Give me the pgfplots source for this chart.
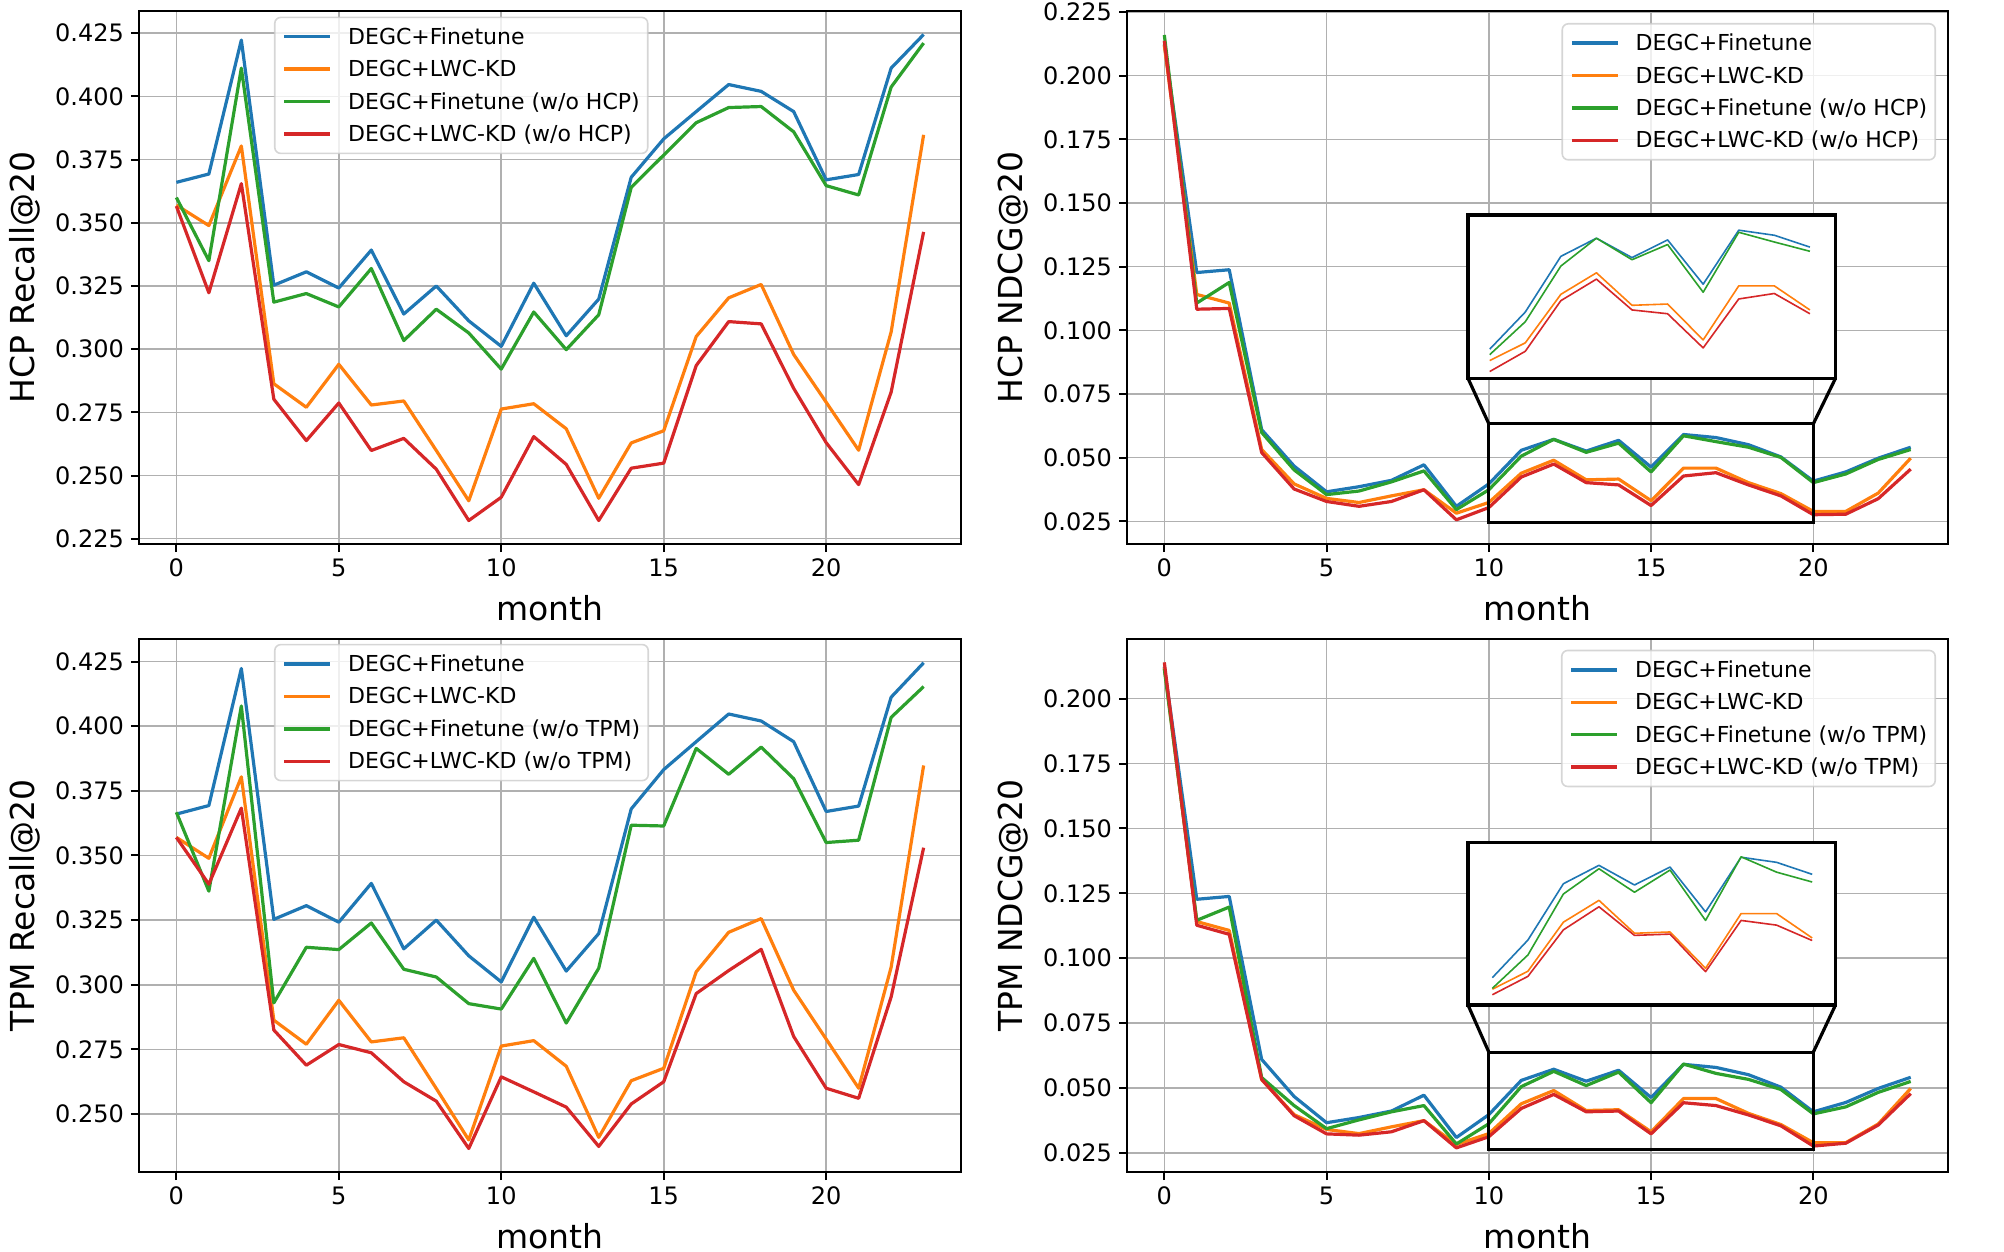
\documentclass[border=0pt]{standalone}
\usepackage{fontspec}
\setmainfont{DejaVu Sans}
\usepackage{pgfplots}
\pgfplotsset{compat=1.18}
\usepackage{pgfplotstable}

\definecolor{tabblue}{HTML}{1F77B4}
\definecolor{taborange}{HTML}{FF7F0E}
\definecolor{tabgreen}{HTML}{2CA02C}
\definecolor{tabred}{HTML}{D62728}
\definecolor{gridgray}{HTML}{B0B0B0}
\definecolor{legendgray}{HTML}{CCCCCC}

\pgfplotstableread{
x B O GH RH GT RT
0 0.3660 0.3570 0.3600 0.3566 0.3667 0.3570
1 0.3693 0.3489 0.3350 0.3223 0.3362 0.3389
2 0.4223 0.3804 0.4112 0.3655 0.4078 0.3683
3 0.3253 0.2863 0.3186 0.2802 0.2930 0.2825
4 0.3306 0.2770 0.3220 0.2638 0.3145 0.2689
5 0.3242 0.2940 0.3167 0.2787 0.3136 0.2769
6 0.3392 0.2779 0.3319 0.2599 0.3239 0.2737
7 0.3139 0.2795 0.3034 0.2647 0.3060 0.2625
8 0.3250 0.2599 0.3158 0.2525 0.3030 0.2550
9 0.3112 0.2400 0.3064 0.2322 0.2927 0.2367
10 0.3011 0.2763 0.2921 0.2414 0.2906 0.2644
11 0.3261 0.2784 0.3147 0.2654 0.3102 0.2586
12 0.3053 0.2685 0.2998 0.2544 0.2852 0.2527
13 0.3198 0.2410 0.3136 0.2322 0.3064 0.2375
14 0.3680 0.2629 0.3640 0.2529 0.3617 0.2539
15 0.3832 0.2677 0.3768 0.2549 0.3614 0.2625
16 0.3940 0.3050 0.3896 0.2935 0.3914 0.2966
17 0.4047 0.3203 0.3956 0.3109 0.3814 0.3055
18 0.4020 0.3256 0.3960 0.3100 0.3919 0.3137
19 0.3940 0.2979 0.3860 0.2845 0.3797 0.2800
20 0.3670 0.2790 0.3647 0.2630 0.3550 0.2600
21 0.3691 0.2600 0.3610 0.2464 0.3559 0.2561
22 0.4112 0.3068 0.4037 0.2830 0.4034 0.2953
23 0.4245 0.3848 0.4211 0.3464 0.4153 0.3530
}\recall

\pgfplotstableread{
x B O GH RH GT RT
0 0.2123 0.2120 0.2160 0.2137 0.2115 0.2140
1 0.1227 0.1141 0.1107 0.1083 0.1146 0.1127
2 0.1238 0.1107 0.1188 0.1086 0.1197 0.1092
3 0.0610 0.0532 0.0599 0.0520 0.0540 0.0533
4 0.0467 0.0397 0.0452 0.0377 0.0432 0.0393
5 0.0366 0.0340 0.0355 0.0328 0.0343 0.0323
6 0.0386 0.0324 0.0369 0.0309 0.0377 0.0318
7 0.0411 0.0350 0.0405 0.0328 0.0408 0.0331
8 0.0472 0.0374 0.0448 0.0374 0.0432 0.0374
9 0.0309 0.0282 0.0296 0.0256 0.0284 0.0269
10 0.0397 0.0324 0.0374 0.0304 0.0362 0.0312
11 0.0529 0.0439 0.0506 0.0424 0.0505 0.0421
12 0.0572 0.0490 0.0572 0.0475 0.0564 0.0475
13 0.0526 0.0413 0.0521 0.0402 0.0509 0.0408
14 0.0568 0.0416 0.0557 0.0393 0.0561 0.0411
15 0.0463 0.0331 0.0444 0.0312 0.0443 0.0323
16 0.0591 0.0459 0.0586 0.0428 0.0592 0.0443
17 0.0579 0.0459 0.0563 0.0441 0.0556 0.0432
18 0.0551 0.0402 0.0541 0.0393 0.0533 0.0396
19 0.0503 0.0359 0.0501 0.0350 0.0494 0.0354
20 0.0408 0.0289 0.0402 0.0276 0.0400 0.0276
21 0.0444 0.0289 0.0436 0.0278 0.0427 0.0287
22 0.0498 0.0361 0.0493 0.0339 0.0483 0.0357
23 0.0541 0.0498 0.0532 0.0455 0.0525 0.0478
}\ndcg

\pgfplotsset{
  mainax/.style={
    scale only axis, width=411pt, height=266.5pt, anchor=south west,
    xmin=-1.15, xmax=24.15, xtick={0,5,10,15,20},
    grid=major, major grid style={line width=0.8pt, draw=gridgray},
    axis line style={line width=1pt, black},
    tick align=outside, tick pos=left, major tick length=4pt,
    tick style={line width=1pt, black},
    /pgf/number format/assume math mode=true,
    tick label style={font=\fontsize{12}{14}\selectfont},
    yticklabel style={/pgf/number format/fixed, /pgf/number format/fixed zerofill, /pgf/number format/precision=3},
    scaled y ticks=false,
    xlabel={month},
    xlabel style={font=\fontsize{16.5}{19}\selectfont, at={(axis description cs:0.5,0)}, anchor=base, yshift=-38pt},
    ylabel style={font=\fontsize{16.5}{19}\selectfont, at={(axis description cs:-0.127,0.5)}, anchor=base},
    legend cell align=left,
    legend style={font=\fontsize{11}{13}\selectfont, draw=legendgray, line width=0.8pt, rounded corners=3pt,
      fill=white, fill opacity=0.8, draw opacity=0.8, text opacity=1,
      inner xsep=4pt, inner ysep=4.95pt, row sep=6.7pt, column sep=8pt,
      nodes={inner sep=0pt, text height=8.5pt, text depth=1pt}},
    legend image code/.code={\draw[#1, line width=1.7pt, draw opacity=1, rounded corners=0pt] (0pt,0pt) -- (23pt,0pt);},
    every axis plot/.append style={line width=1.6pt, line join=round},
  },
  insax/.style={
    scale only axis, width=183.75pt, anchor=south west,
    xtick=\empty, ytick=\empty,
    axis line style={line width=1.7pt, black},
    axis background/.style={fill=white},
    every axis plot/.append style={line width=0.8pt, line join=round},
  },
}

\begin{document}
\begin{tikzpicture}

% ---------- top left ----------
\begin{axis}[mainax, at={(69.5pt,-272pt)},
  ymin=0.2229, ymax=0.4338,
  ytick={0.225,0.25,0.275,0.3,0.325,0.35,0.375,0.4,0.425},
  ylabel={HCP Recall@20},
  legend style={at={(0.1642,0.9895)}, anchor=north west}]
\addplot[tabblue] table[x=x,y=B]{\recall};
\addplot[taborange] table[x=x,y=O]{\recall};
\addplot[tabgreen] table[x=x,y=GH]{\recall};
\addplot[tabred] table[x=x,y=RH]{\recall};
\legend{DEGC+Finetune, DEGC+LWC-KD, DEGC+Finetune (w/o HCP), DEGC+LWC-KD (w/o HCP)}
\end{axis}

% ---------- top right ----------
\begin{axis}[mainax, at={(563.5pt,-272pt)}, width=410.5pt,
  ymin=0.0161, ymax=0.2254,
  ytick={0.025,0.05,0.075,0.1,0.125,0.15,0.175,0.2,0.225},
  ylabel={HCP NDCG@20},
  legend style={at={(0.9854,0.9775)}, anchor=north east}]
\addplot[tabblue] table[x=x,y=B]{\ndcg};
\addplot[taborange] table[x=x,y=O]{\ndcg};
\addplot[tabgreen] table[x=x,y=GH]{\ndcg};
\addplot[tabred] table[x=x,y=RH]{\ndcg};
\legend{DEGC+Finetune, DEGC+LWC-KD, DEGC+Finetune (w/o HCP), DEGC+LWC-KD (w/o HCP)}
\draw[line width=1.6pt] (axis cs:10,0.0245) rectangle (axis cs:20,0.0633);
\coordinate (rAl) at (axis cs:10,0.0633);
\coordinate (rAr) at (axis cs:20,0.0633);
\end{axis}

\begin{axis}[insax, name=insA, at={(734pt,-189.15pt)}, height=81.65pt,
  xmin=8.39, xmax=18.72, ymin=0.024, ymax=0.0627]
\addplot[tabblue, restrict x to domain=9:18] table[x=x,y=B]{\ndcg};
\addplot[taborange, restrict x to domain=9:18] table[x=x,y=O]{\ndcg};
\addplot[tabgreen, restrict x to domain=9:18] table[x=x,y=GH]{\ndcg};
\addplot[tabred, restrict x to domain=9:18] table[x=x,y=RH]{\ndcg};
\end{axis}
\draw[line width=1.6pt] (insA.south west) -- (rAl);
\draw[line width=1.6pt] (insA.south east) -- (rAr);

% ---------- bottom left ----------
\begin{axis}[mainax, at={(69.5pt,-586pt)},
  ymin=0.2276, ymax=0.4337,
  ytick={0.25,0.275,0.3,0.325,0.35,0.375,0.4,0.425},
  ylabel={TPM Recall@20},
  legend style={at={(0.1642,0.991)}, anchor=north west}]
\addplot[tabblue] table[x=x,y=B]{\recall};
\addplot[taborange] table[x=x,y=O]{\recall};
\addplot[tabgreen] table[x=x,y=GT]{\recall};
\addplot[tabred] table[x=x,y=RT]{\recall};
\legend{DEGC+Finetune, DEGC+LWC-KD, DEGC+Finetune (w/o TPM), DEGC+LWC-KD (w/o TPM)}
\end{axis}

% ---------- bottom right ----------
\begin{axis}[mainax, at={(563.5pt,-586pt)}, width=410.5pt,
  ymin=0.0176, ymax=0.2230,
  ytick={0.025,0.05,0.075,0.1,0.125,0.15,0.175,0.2},
  ylabel={TPM NDCG@20},
  legend style={at={(0.9854,0.98)}, anchor=north east}]
\addplot[tabblue] table[x=x,y=B]{\ndcg};
\addplot[taborange] table[x=x,y=O]{\ndcg};
\addplot[tabgreen] table[x=x,y=GT]{\ndcg};
\addplot[tabred] table[x=x,y=RT]{\ndcg};
\legend{DEGC+Finetune, DEGC+LWC-KD, DEGC+Finetune (w/o TPM), DEGC+LWC-KD (w/o TPM)}
\draw[line width=1.6pt] (axis cs:10,0.0264) rectangle (axis cs:20,0.0638);
\coordinate (rBl) at (axis cs:10,0.0638);
\coordinate (rBr) at (axis cs:20,0.0638);
\end{axis}

\begin{axis}[insax, name=insB, at={(734pt,-502.5pt)}, height=81.15pt,
  xmin=8.315, xmax=18.657, ymin=0.0245, ymax=0.0625]
\addplot[tabblue, restrict x to domain=9:18] table[x=x,y=B]{\ndcg};
\addplot[taborange, restrict x to domain=9:18] table[x=x,y=O]{\ndcg};
\addplot[tabgreen, restrict x to domain=9:18] table[x=x,y=GT]{\ndcg};
\addplot[tabred, restrict x to domain=9:18] table[x=x,y=RT]{\ndcg};
\end{axis}
\draw[line width=1.6pt] (insB.south west) -- (rBl);
\draw[line width=1.6pt] (insB.south east) -- (rBr);

\pgfresetboundingbox
\path[use as bounding box] (0pt,0pt) rectangle (1002pt,-626pt);
\end{tikzpicture}
\end{document}
